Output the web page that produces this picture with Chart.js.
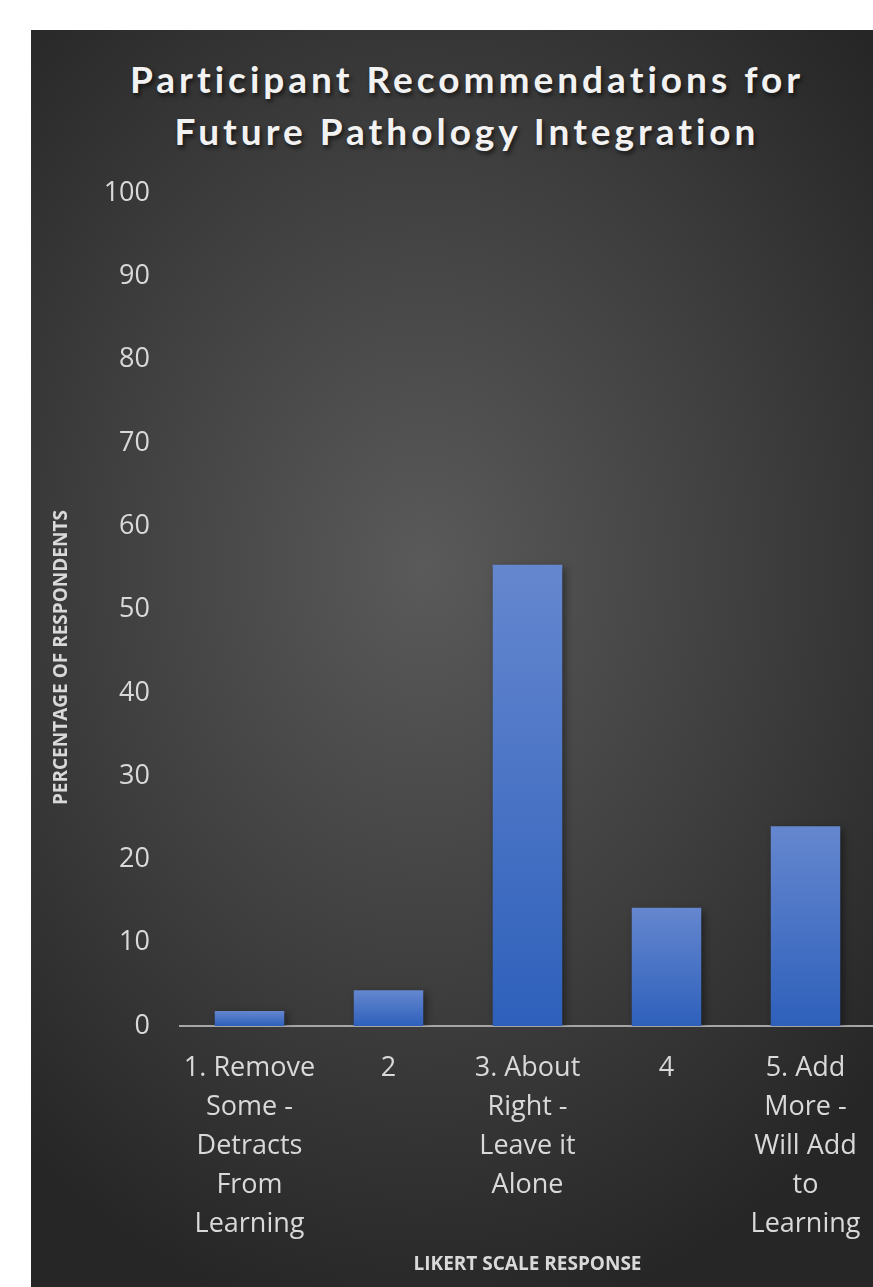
<!DOCTYPE html>
<html>
<head>
<meta charset="utf-8">
<script src="https://cdn.jsdelivr.net/npm/chart.js@4/dist/chart.umd.min.js"></script>
<style>
    html, body { margin: 0; padding: 0; background: #ffffff; overflow: hidden; }
    #panel {
        position: absolute; left: 31px; top: 30px; width: 872px; height: 1280px;
        background: radial-gradient(ellipse 70% 60% at 45% 42%, #5a5a5a 0%, #3e3e3e 55%, #262626 100%);
    }
    #title {
        position: absolute; left: 0; top: 23px; width: 872px; text-align: center;
        font-family: Lato, "Open Sans", sans-serif; font-weight: bold; font-size: 37px;
        line-height: 52px; letter-spacing: 4px; color: #f2f2f2;
        text-shadow: 2px 3px 4px rgba(0,0,0,0.6);
    }
    #wrap { position: absolute; left: 0; top: 117px; width: 872px; height: 1140px; }
</style>
</head>
<body>
<div id="panel">
    <div id="title">Participant Recommendations for<br>Future Pathology Integration</div>
    <div id="wrap"><canvas id="chart"></canvas></div>
</div>
<script>
// === ДАННЫЕ ===
const categories = [
    ['1. Remove', 'Some -', 'Detracts', 'From', 'Learning'],
    '2',
    ['3. About', 'Right -', 'Leave it', 'Alone'],
    '4',
    ['5. Add', 'More -', 'Will Add', 'to', 'Learning']
];
const percentValues = [1.8, 4.3, 55.4, 14.2, 24.0];
const yTicks = [0, 10, 20, 30, 40, 50, 60, 70, 80, 90, 100];
const yTitle = 'PERCENTAGE OF RESPONDENTS';
const xTitle = 'LIKERT SCALE RESPONSE';

const textColor = '#d9d9d9';
const tickFont = '"Open Sans", Lato, sans-serif';

// === ГРАДИЕНТ СТОЛБЦА ===
function barGradient(context) {
    const chart = context.chart;
    const y = chart.scales.y;
    if (!chart.chartArea || !y) return '#4472c4';
    const v = context.raw || 0;
    const top = y.getPixelForValue(v);
    const bottom = y.getPixelForValue(0);
    if (!isFinite(top) || !isFinite(bottom) || top === bottom) return '#4472c4';
    const g = chart.ctx.createLinearGradient(0, top, 0, bottom);
    g.addColorStop(0, '#6587cf');
    g.addColorStop(1, '#2e60bb');
    return g;
}

// === ТЕНЬ ===
const shadowPlugin = {
    id: 'barShadow',
    beforeDatasetsDraw(chart) {
        const ctx = chart.ctx;
        ctx.save();
        ctx.shadowColor = 'rgba(0,0,0,0.45)';
        ctx.shadowBlur = 8;
        ctx.shadowOffsetX = 3;
        ctx.shadowOffsetY = 3;
    },
    afterDatasetsDraw(chart) {
        chart.ctx.restore();
    }
};

// === ПОДПИСЬ ОСИ Y (смещена вниз, как в оригинале) ===
const yTitlePlugin = {
    id: 'yTitle',
    afterDraw(chart) {
        const ctx = chart.ctx;
        const area = chart.chartArea;
        ctx.save();
        ctx.translate(31, (area.top + area.bottom) / 2 + 48);
        ctx.rotate(-Math.PI / 2);
        ctx.fillStyle = textColor;
        ctx.font = 'bold 19px "Open Sans", Lato, sans-serif';
        ctx.textAlign = 'center';
        ctx.textBaseline = 'middle';
        ctx.fillText(yTitle, 0, 0);
        ctx.restore();
    }
};

const ctx = document.getElementById('chart').getContext('2d');
new Chart(ctx, {
    type: 'bar',
    data: {
        labels: categories,
        datasets: [{
            data: percentValues,
            backgroundColor: barGradient,
            borderWidth: 0,
            categoryPercentage: 1,
            barPercentage: 0.5
        }]
    },
    options: {
        responsive: true,
        maintainAspectRatio: false,
        animation: false,
        layout: { padding: { top: 0, right: 28, bottom: 11, left: 0 } },
        plugins: {
            legend: { display: false },
            tooltip: { enabled: false }
        },
        scales: {
            x: {
                afterFit(scale) { scale.height = 250; },
                grid: { display: false, drawTicks: false },
                border: { display: true, color: '#a6a6a6', width: 2 },
                ticks: {
                    color: textColor,
                    autoSkip: false,
                    maxRotation: 0,
                    padding: 23,
                    font: { family: tickFont, size: 27, lineHeight: 1.444 }
                },
                title: {
                    display: true,
                    text: xTitle,
                    color: textColor,
                    font: { family: tickFont, size: 19, weight: 'bold' },
                    padding: { top: 0, bottom: 0 }
                }
            },
            y: {
                min: 0,
                max: 100,
                afterFit(scale) { scale.width = 149; },
                afterBuildTicks(axis) { axis.ticks = yTicks.map(v => ({ value: v })); },
                grid: { display: false, drawTicks: false },
                border: { display: false },
                ticks: {
                    color: textColor,
                    padding: 30,
                    font: { family: tickFont, size: 27 }
                },
                title: { display: false }
            }
        }
    },
    plugins: [shadowPlugin, yTitlePlugin]
});
</script>
</body>
</html>
